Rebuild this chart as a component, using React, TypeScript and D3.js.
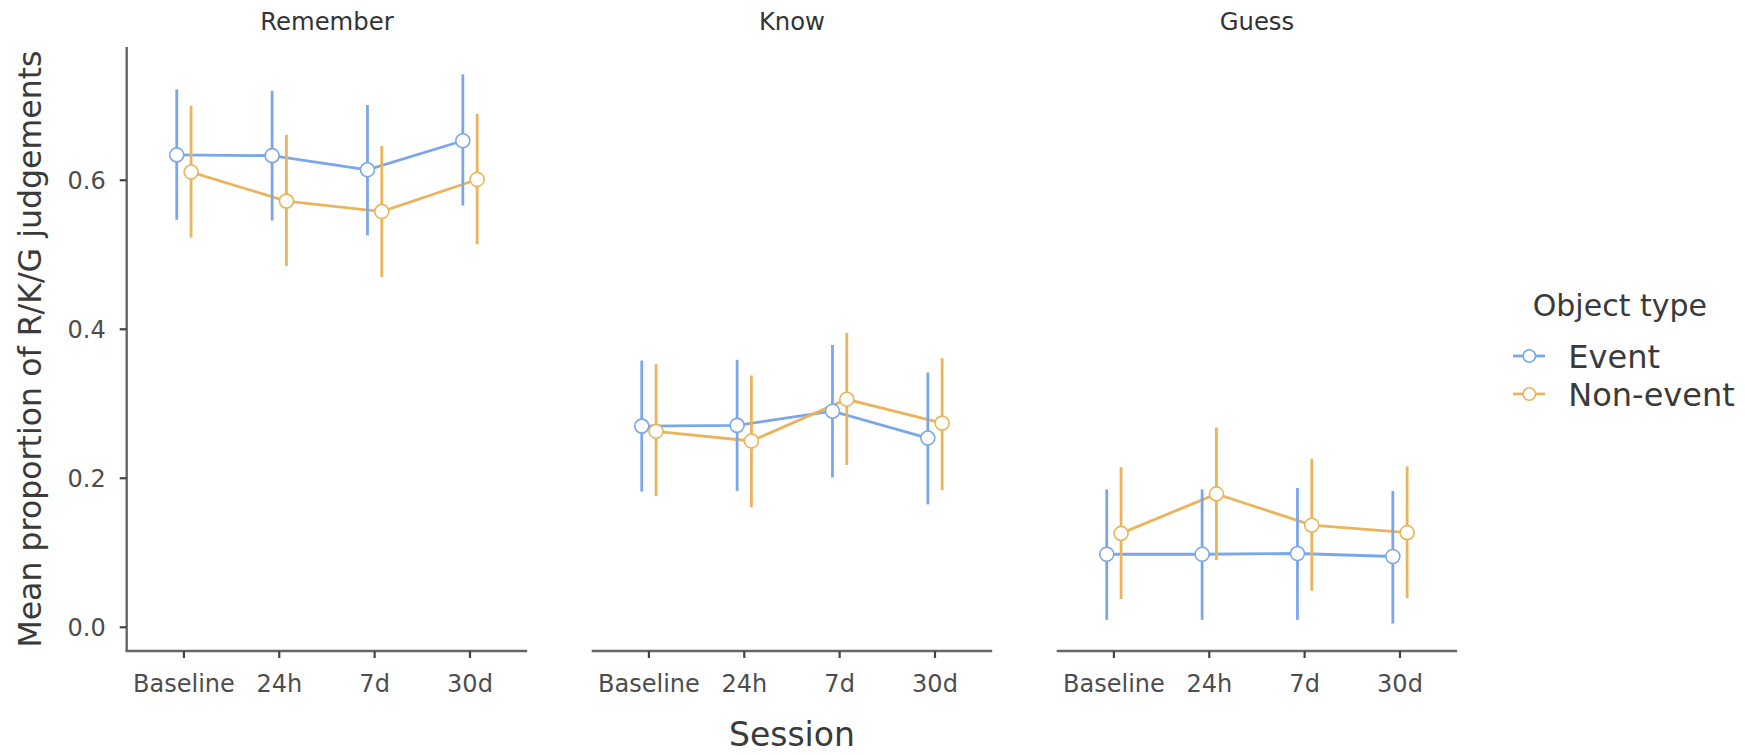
import React from "react";
import * as d3 from "d3";

const sessions = ["Baseline", "24h", "7d", "30d"];
const panels = ["Remember", "Know", "Guess"];
const objectTypes = ["Event", "Non-event"];
const yTicks = [0, 0.2, 0.4, 0.6];

const rememberEventMean = [0.634, 0.633, 0.614, 0.653];
const rememberEventLower = [0.547, 0.546, 0.526, 0.566];
const rememberEventUpper = [0.722, 0.72, 0.701, 0.742];
const rememberNonEventMean = [0.611, 0.572, 0.558, 0.601];
const rememberNonEventLower = [0.523, 0.485, 0.47, 0.514];
const rememberNonEventUpper = [0.7, 0.661, 0.646, 0.689];

const knowEventMean = [0.27, 0.271, 0.29, 0.254];
const knowEventLower = [0.182, 0.183, 0.201, 0.165];
const knowEventUpper = [0.358, 0.359, 0.379, 0.342];
const knowNonEventMean = [0.263, 0.25, 0.306, 0.274];
const knowNonEventLower = [0.176, 0.161, 0.218, 0.184];
const knowNonEventUpper = [0.353, 0.338, 0.395, 0.361];

const guessEventMean = [0.098, 0.098, 0.099, 0.095];
const guessEventLower = [0.01, 0.01, 0.01, 0.005];
const guessEventUpper = [0.185, 0.185, 0.187, 0.183];
const guessNonEventMean = [0.126, 0.179, 0.137, 0.127];
const guessNonEventLower = [0.038, 0.09, 0.049, 0.039];
const guessNonEventUpper = [0.215, 0.268, 0.226, 0.216];

const seriesTable = [
  [
    { mean: rememberEventMean, lower: rememberEventLower, upper: rememberEventUpper },
    { mean: rememberNonEventMean, lower: rememberNonEventLower, upper: rememberNonEventUpper },
  ],
  [
    { mean: knowEventMean, lower: knowEventLower, upper: knowEventUpper },
    { mean: knowNonEventMean, lower: knowNonEventLower, upper: knowNonEventUpper },
  ],
  [
    { mean: guessEventMean, lower: guessEventLower, upper: guessEventUpper },
    { mean: guessNonEventMean, lower: guessNonEventLower, upper: guessNonEventUpper },
  ],
];

const W = 1745;
const H = 755;
const FONT = "'DejaVu Sans', sans-serif";
const colors = ["#7BA7EA", "#EAB45C"];
const panelLeft0 = 126.7;
const panelWidth = 400.5;
const panelStep = 465;
const plotTop = 47;
const plotBottom = 651;
const dodge = 0.075;

export default function App() {
  const allLo = d3.min(seriesTable.flat().flatMap((s) => s.lower)) as number;
  const allHi = d3.max(seriesTable.flat().flatMap((s) => s.upper)) as number;
  const ext = (allHi - allLo) * 0.05;
  const y = d3.scaleLinear().domain([allLo - ext, allHi + ext]).range([plotBottom, plotTop]);

  return (
    <svg
      width={W}
      height={H}
      style={{ position: "absolute", left: 0, top: 0, display: "block", background: "#fff" }}
      fontFamily={FONT}
    >
      <rect x={0} y={0} width={W} height={H} fill="#fff" />
      {/* y axis */}
      <line x1={panelLeft0} x2={panelLeft0} y1={plotTop} y2={plotBottom} stroke="#666" strokeWidth={2.4} />
      {yTicks.map((t) => (
        <g key={t}>
          <line x1={panelLeft0 - 7} x2={panelLeft0} y1={y(t)} y2={y(t)} stroke="#444" strokeWidth={2.2} />
          <text x={panelLeft0 - 21} y={y(t)} dy="0.36em" textAnchor="end" fontSize={24} fill="#4D4D4D">
            {d3.format(".1f")(t)}
          </text>
        </g>
      ))}
      <text
        transform={`translate(41, ${(plotTop + plotBottom) / 2}) rotate(-90)`}
        textAnchor="middle"
        fontSize={31.6}
        fill="#3a3a3a"
      >
        Mean proportion of R/K/G judgements
      </text>

      {panels.map((p, pi) => {
        const left = panelLeft0 + pi * panelStep;
        const x = d3.scalePoint<string>().domain(sessions).range([left, left + panelWidth]).padding(0.6);
        const step = x.step();
        return (
          <g key={p}>
            <text x={left + panelWidth / 2} y={30} textAnchor="middle" fontSize={24.3} fill="#333">
              {p}
            </text>
            <line x1={left - (pi === 0 ? 1.2 : 0)} x2={left + panelWidth} y1={plotBottom} y2={plotBottom} stroke="#666" strokeWidth={2.4} />
            {sessions.map((s) => (
              <g key={s}>
                <line x1={x(s)} x2={x(s)} y1={plotBottom} y2={plotBottom + 7} stroke="#444" strokeWidth={2.2} />
                <text x={x(s)} y={692} textAnchor="middle" fontSize={24} fill="#4D4D4D">
                  {s}
                </text>
              </g>
            ))}
            {seriesTable[pi].map((ser, si) => {
              const off = (si === 0 ? -dodge : dodge) * step;
              const line = d3
                .line<number>()
                .x((_, i) => (x(sessions[i]) as number) + off)
                .y((v) => y(v));
              return (
                <g key={si}>
                  <path d={line(ser.mean) || ""} fill="none" stroke={colors[si]} strokeWidth={2.8} />
                </g>
              );
            })}
            {seriesTable[pi].map((ser, si) => {
              const off = (si === 0 ? -dodge : dodge) * step;
              return (
                <g key={"e" + si}>
                  {sessions.map((s, i) => (
                    <line
                      key={s}
                      x1={(x(s) as number) + off}
                      x2={(x(s) as number) + off}
                      y1={y(ser.lower[i])}
                      y2={y(ser.upper[i])}
                      stroke={colors[si]}
                      strokeWidth={2.8}
                    />
                  ))}
                </g>
              );
            })}
            {seriesTable[pi].map((ser, si) => {
              const off = (si === 0 ? -dodge : dodge) * step;
              return (
                <g key={"p" + si}>
                  {sessions.map((s, i) => (
                    <circle
                      key={s}
                      cx={(x(s) as number) + off}
                      cy={y(ser.mean[i])}
                      r={7}
                      fill="#fff"
                      stroke={colors[si]}
                      strokeWidth={1.6}
                    />
                  ))}
                </g>
              );
            })}
          </g>
        );
      })}

      <text
        x={panelLeft0 + panelStep + panelWidth / 2}
        y={746}
        textAnchor="middle"
        fontSize={33}
        fill="#3a3a3a"
      >
        Session
      </text>

      {/* legend */}
      <text x={1532.7} y={315.7} fontSize={30} fill="#3a3a3a">
        Object type
      </text>
      {objectTypes.map((t, i) => {
        const cy = 356 + i * 38;
        return (
          <g key={t}>
            <line x1={1513} x2={1545} y1={cy} y2={cy} stroke={colors[i]} strokeWidth={2.8} />
            <circle cx={1529.3} cy={cy} r={6.2} fill="#fff" stroke={colors[i]} strokeWidth={1.6} />
            <text x={1568.3} y={cy} dy="0.36em" fontSize={32} fill="#3a3a3a">
              {t}
            </text>
          </g>
        );
      })}
    </svg>
  );
}
